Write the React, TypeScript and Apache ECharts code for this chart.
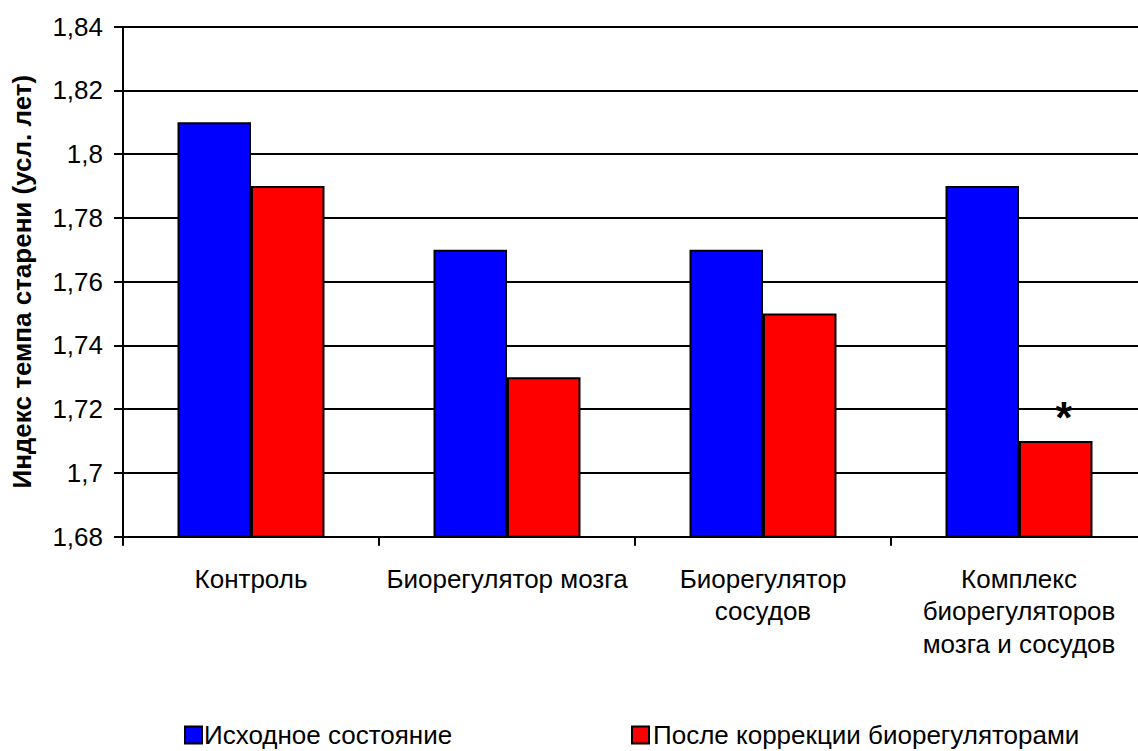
import React, { useEffect, useRef } from "react";
import * as echarts from "echarts";

const categories = [
  "Контроль",
  "Биорегулятор мозга",
  "Биорегулятор\nсосудов",
  "Комплекс\nбиорегуляторов\nмозга и сосудов",
];
const seriesNames = ["Исходное состояние", "После коррекции биорегуляторами"];
const baseline = [1.81, 1.77, 1.77, 1.79];
const corrected = [1.79, 1.73, 1.75, 1.71];
const significant = [false, false, false, true];
const yAxisName = "Индекс темпа старени (усл. лет)";

const FONT = "'Liberation Sans', Arial, sans-serif";

export default function App() {
  const ref = useRef<HTMLDivElement>(null);
  useEffect(() => {
    if (!ref.current) return;
    const chart = echarts.init(ref.current, undefined, { renderer: "svg" });
    const fmt = (v: number) => String(parseFloat(v.toFixed(2))).replace(".", ",");
    const legendText = { fontFamily: FONT, fontSize: 26, lineHeight: 26, color: "#000" };
    chart.setOption({
      animation: false,
      backgroundColor: "#ffffff",
      textStyle: { fontFamily: FONT, color: "#000" },
      grid: { left: 123, top: 26.7, width: 1024, bottom: 214.3, containLabel: false },
      legend: [
        {
          data: [seriesNames[0]],
          left: 184,
          top: 722,
          padding: 0,
          itemWidth: 17,
          itemHeight: 17,
          itemGap: 0,
          textStyle: { ...legendText, padding: [0, 0, 0, -3] },
          icon: "rect",
        },
        {
          data: [seriesNames[1]],
          left: 631,
          top: 722,
          padding: 0,
          itemWidth: 17,
          itemHeight: 17,
          textStyle: { ...legendText, padding: [0, 0, 0, -1] },
          icon: "rect",
        },
      ],
      xAxis: {
        type: "category",
        data: categories,
        axisLine: { lineStyle: { color: "#000", width: 2 } },
        axisTick: { show: true, length: 9, lineStyle: { color: "#000", width: 2 } },
        axisLabel: {
          fontFamily: FONT,
          fontSize: 26,
          color: "#000",
          margin: 26,
          lineHeight: 32.5,
          interval: 0,
        },
      },
      yAxis: {
        type: "value",
        min: 1.68,
        max: 1.84,
        interval: 0.02,
        name: yAxisName,
        nameLocation: "middle",
        nameGap: 88,
        nameTextStyle: { fontFamily: FONT, fontSize: 26, fontWeight: "bold", color: "#000" },
        axisLine: { show: true, lineStyle: { color: "#000", width: 2 } },
        axisTick: { show: true, length: 9, lineStyle: { color: "#000", width: 2 } },
        splitLine: { show: true, lineStyle: { color: "#000", width: 2 } },
        axisLabel: {
          fontFamily: FONT,
          fontSize: 26,
          color: "#000",
          margin: 20,
          formatter: fmt,
        },
      },
      series: [
        {
          name: seriesNames[0],
          type: "bar",
          data: baseline,
          barWidth: 73.5,
          barGap: "0%",
          itemStyle: { color: "#0000ff", borderColor: "#000", borderWidth: 2 },
        },
        {
          name: seriesNames[1],
          type: "bar",
          data: corrected.map((v, i) =>
            significant[i]
              ? {
                  value: v,
                  label: {
                    show: true,
                    position: "top",
                    formatter: "*",
                    fontFamily: FONT,
                    fontSize: 44,
                    fontWeight: "bold",
                    color: "#000",
                    distance: 2,
                    offset: [8, 0],
                  },
                }
              : v
          ),
          barWidth: 73.5,
          barGap: "0%",
          itemStyle: { color: "#ff0000", borderColor: "#000", borderWidth: 2 },
        },
      ],
    });
    return () => chart.dispose();
  }, []);
  return (
    <div style={{ position: "fixed", left: 0, top: 0, width: 1138, height: 751, overflow: "hidden", background: "#fff" }}>
      <div ref={ref} style={{ width: 1160, height: 751 }} />
    </div>
  );
}
